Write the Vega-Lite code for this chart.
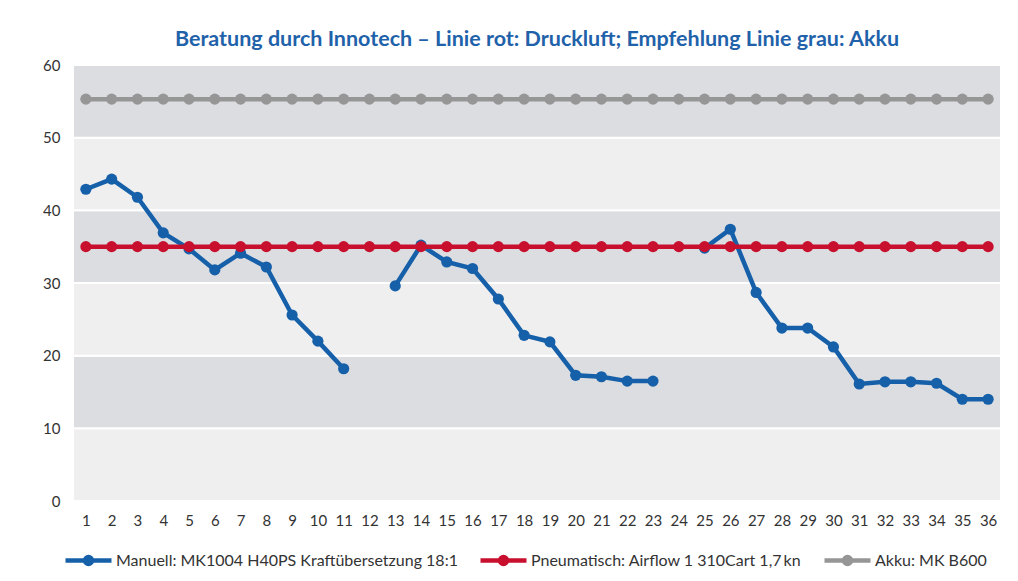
{
  "$schema": "https://vega.github.io/schema/vega-lite/v6.json",
  "width": 928,
  "height": 436,
  "autosize": "none",
  "padding": {"left": 73, "top": 65, "right": 17, "bottom": 80},
  "background": "#ffffff",
  "config": {
    "view": {"stroke": null},
    "font": "Lato",
    "axis": {"labelFont": "Lato", "labelFontSize": 15, "labelColor": "#333333", "ticks": false, "domain": false, "grid": false}
  },
  "title": {
    "text": "Beratung durch Innotech – Linie rot: Druckluft; Empfehlung Linie grau: Akku",
    "font": "Lato",
    "fontSize": 21.5,
    "fontWeight": "bold",
    "color": "#1f62aa",
    "anchor": "middle",
    "offset": 8
  },
  "layer": [
    {
      "data": {"values": [
        {"von": 0, "bis": 10, "Ton": "hell"},
        {"von": 10, "bis": 20, "Ton": "dunkel"},
        {"von": 20, "bis": 30, "Ton": "hell"},
        {"von": 30, "bis": 40, "Ton": "dunkel"},
        {"von": 40, "bis": 50, "Ton": "hell"},
        {"von": 50, "bis": 60, "Ton": "dunkel"}
      ]},
      "mark": {"type": "rect", "stroke": "#ffffff", "strokeWidth": 2},
      "encoding": {
        "y": {"field": "von", "type": "quantitative", "scale": {"domain": [0, 60], "nice": false}, "axis": {"values": [0, 10, 20, 30, 40, 50, 60], "labelPadding": 13, "title": null}},
        "y2": {"field": "bis"},
        "fill": {"field": "Ton", "type": "nominal", "scale": {"domain": ["dunkel", "hell"], "range": ["#dcdde0", "#efefef"]}, "legend": null}
      }
    },
    {
      "data": {"values": [
        {"Messung": 1, "Wert": 42.9, "Abschnitt": 1}, {"Messung": 2, "Wert": 44.3, "Abschnitt": 1}, {"Messung": 3, "Wert": 41.8, "Abschnitt": 1},
        {"Messung": 4, "Wert": 36.9, "Abschnitt": 1}, {"Messung": 5, "Wert": 34.7, "Abschnitt": 1}, {"Messung": 6, "Wert": 31.8, "Abschnitt": 1},
        {"Messung": 7, "Wert": 34.1, "Abschnitt": 1}, {"Messung": 8, "Wert": 32.2, "Abschnitt": 1}, {"Messung": 9, "Wert": 25.6, "Abschnitt": 1},
        {"Messung": 10, "Wert": 22.0, "Abschnitt": 1}, {"Messung": 11, "Wert": 18.2, "Abschnitt": 1},
        {"Messung": 13, "Wert": 29.6, "Abschnitt": 2}, {"Messung": 14, "Wert": 35.2, "Abschnitt": 2}, {"Messung": 15, "Wert": 32.9, "Abschnitt": 2},
        {"Messung": 16, "Wert": 32.0, "Abschnitt": 2}, {"Messung": 17, "Wert": 27.8, "Abschnitt": 2}, {"Messung": 18, "Wert": 22.8, "Abschnitt": 2},
        {"Messung": 19, "Wert": 21.9, "Abschnitt": 2}, {"Messung": 20, "Wert": 17.3, "Abschnitt": 2}, {"Messung": 21, "Wert": 17.1, "Abschnitt": 2},
        {"Messung": 22, "Wert": 16.5, "Abschnitt": 2}, {"Messung": 23, "Wert": 16.5, "Abschnitt": 2},
        {"Messung": 25, "Wert": 34.8, "Abschnitt": 3}, {"Messung": 26, "Wert": 37.4, "Abschnitt": 3}, {"Messung": 27, "Wert": 28.7, "Abschnitt": 3},
        {"Messung": 28, "Wert": 23.8, "Abschnitt": 3}, {"Messung": 29, "Wert": 23.8, "Abschnitt": 3}, {"Messung": 30, "Wert": 21.2, "Abschnitt": 3},
        {"Messung": 31, "Wert": 16.1, "Abschnitt": 3}, {"Messung": 32, "Wert": 16.4, "Abschnitt": 3}, {"Messung": 33, "Wert": 16.4, "Abschnitt": 3},
        {"Messung": 34, "Wert": 16.2, "Abschnitt": 3}, {"Messung": 35, "Wert": 14.0, "Abschnitt": 3}, {"Messung": 36, "Wert": 14.0, "Abschnitt": 3}
      ]},
      "transform": [{"calculate": "'Manuell: MK1004 H40PS Kraftübersetzung 18:1'", "as": "Serie"}],
      "mark": {"type": "line", "strokeWidth": 4.5, "point": {"filled": true, "size": 125, "opacity": 1}},
      "encoding": {
        "x": {"field": "Messung", "type": "ordinal", "scale": {"type": "point", "padding": 0.5}, "axis": {"labelAngle": 0, "labelPadding": 12, "title": null}},
        "y": {"field": "Wert", "type": "quantitative"},
        "detail": {"field": "Abschnitt"},
        "color": {
          "field": "Serie", "type": "nominal",
          "scale": {"domain": ["Manuell: MK1004 H40PS Kraftübersetzung 18:1", "Pneumatisch: Airflow 1 310Cart 1,7\u2009kn", "Akku: MK B600"], "range": ["#1660aa", "#c8102e", "#969696"]},
          "legend": {
            "title": null, "orient": "none", "direction": "horizontal", "legendX": -10, "legendY": 470,
            "symbolType": "M-1,0L1,0M-0.15,0A0.15,0.15 0 1,1 0.15,0A0.15,0.15 0 1,1 -0.15,0Z",
            "symbolSize": 2116, "symbolStrokeWidth": 4.5, "labelFont": "Lato", "labelFontSize": 16, "labelColor": "#333333",
            "labelOffset": 2, "columnPadding": 13, "labelLimit": 500,
            "encode": {"symbols": {"update": {"fill": {"scale": "color", "field": "value"}, "stroke": {"scale": "color", "field": "value"}, "opacity": {"value": 1}}}}
          }
        }
      }
    },
    {
      "data": {"values": [
        {"Messung": 1, "Wert": 35}, {"Messung": 2, "Wert": 35}, {"Messung": 3, "Wert": 35}, {"Messung": 4, "Wert": 35}, {"Messung": 5, "Wert": 35}, {"Messung": 6, "Wert": 35},
        {"Messung": 7, "Wert": 35}, {"Messung": 8, "Wert": 35}, {"Messung": 9, "Wert": 35}, {"Messung": 10, "Wert": 35}, {"Messung": 11, "Wert": 35}, {"Messung": 12, "Wert": 35},
        {"Messung": 13, "Wert": 35}, {"Messung": 14, "Wert": 35}, {"Messung": 15, "Wert": 35}, {"Messung": 16, "Wert": 35}, {"Messung": 17, "Wert": 35}, {"Messung": 18, "Wert": 35},
        {"Messung": 19, "Wert": 35}, {"Messung": 20, "Wert": 35}, {"Messung": 21, "Wert": 35}, {"Messung": 22, "Wert": 35}, {"Messung": 23, "Wert": 35}, {"Messung": 24, "Wert": 35},
        {"Messung": 25, "Wert": 35}, {"Messung": 26, "Wert": 35}, {"Messung": 27, "Wert": 35}, {"Messung": 28, "Wert": 35}, {"Messung": 29, "Wert": 35}, {"Messung": 30, "Wert": 35},
        {"Messung": 31, "Wert": 35}, {"Messung": 32, "Wert": 35}, {"Messung": 33, "Wert": 35}, {"Messung": 34, "Wert": 35}, {"Messung": 35, "Wert": 35}, {"Messung": 36, "Wert": 35}
      ]},
      "transform": [{"calculate": "'Pneumatisch: Airflow 1 310Cart 1,7\u2009kn'", "as": "Serie"}],
      "mark": {"type": "line", "strokeWidth": 4.5, "point": {"filled": true, "size": 125, "opacity": 1}},
      "encoding": {
        "x": {"field": "Messung", "type": "ordinal"},
        "y": {"field": "Wert", "type": "quantitative"},
        "color": {"field": "Serie", "type": "nominal"}
      }
    },
    {
      "data": {"values": [
        {"Messung": 1, "Wert": 55.3}, {"Messung": 2, "Wert": 55.3}, {"Messung": 3, "Wert": 55.3}, {"Messung": 4, "Wert": 55.3}, {"Messung": 5, "Wert": 55.3}, {"Messung": 6, "Wert": 55.3},
        {"Messung": 7, "Wert": 55.3}, {"Messung": 8, "Wert": 55.3}, {"Messung": 9, "Wert": 55.3}, {"Messung": 10, "Wert": 55.3}, {"Messung": 11, "Wert": 55.3}, {"Messung": 12, "Wert": 55.3},
        {"Messung": 13, "Wert": 55.3}, {"Messung": 14, "Wert": 55.3}, {"Messung": 15, "Wert": 55.3}, {"Messung": 16, "Wert": 55.3}, {"Messung": 17, "Wert": 55.3}, {"Messung": 18, "Wert": 55.3},
        {"Messung": 19, "Wert": 55.3}, {"Messung": 20, "Wert": 55.3}, {"Messung": 21, "Wert": 55.3}, {"Messung": 22, "Wert": 55.3}, {"Messung": 23, "Wert": 55.3}, {"Messung": 24, "Wert": 55.3},
        {"Messung": 25, "Wert": 55.3}, {"Messung": 26, "Wert": 55.3}, {"Messung": 27, "Wert": 55.3}, {"Messung": 28, "Wert": 55.3}, {"Messung": 29, "Wert": 55.3}, {"Messung": 30, "Wert": 55.3},
        {"Messung": 31, "Wert": 55.3}, {"Messung": 32, "Wert": 55.3}, {"Messung": 33, "Wert": 55.3}, {"Messung": 34, "Wert": 55.3}, {"Messung": 35, "Wert": 55.3}, {"Messung": 36, "Wert": 55.3}
      ]},
      "transform": [{"calculate": "'Akku: MK B600'", "as": "Serie"}],
      "mark": {"type": "line", "strokeWidth": 4.5, "point": {"filled": true, "size": 125, "opacity": 1}},
      "encoding": {
        "x": {"field": "Messung", "type": "ordinal"},
        "y": {"field": "Wert", "type": "quantitative"},
        "color": {"field": "Serie", "type": "nominal"}
      }
    }
  ]
}
